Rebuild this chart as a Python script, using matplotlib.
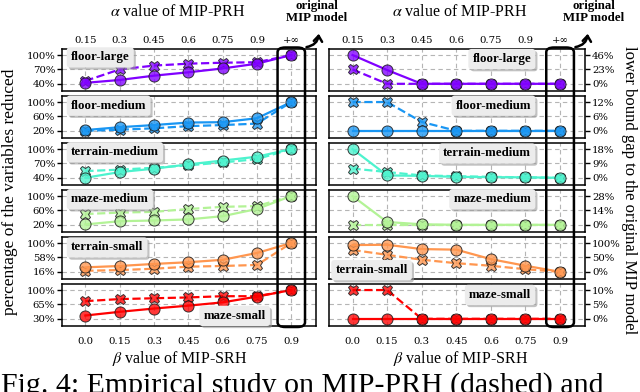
import numpy as np
import matplotlib
matplotlib.use("Agg")
import matplotlib.pyplot as plt
from matplotlib.patches import FancyBboxPatch, FancyArrowPatch
import matplotlib.patheffects as pe

# ---------------- data ----------------
alpha_labels = ['0.15', '0.3', '0.45', '0.6', '0.75', '0.9', '+∞']
beta_labels = ['0.0', '0.15', '0.3', '0.45', '0.6', '0.75', '0.9']
names = ['floor-large', 'floor-medium', 'terrain-medium', 'maze-medium', 'terrain-small', 'maze-small']

# percentage of variables reduced (solid, circles)
red_floor_large_s = [42, 48, 57, 64, 72, 82, 100]
red_floor_medium_s = [22, 30, 36, 43, 44, 55, 100]
red_terrain_medium_s = [40, 52, 59, 68, 76, 84, 100]
red_maze_medium_s = [21, 30, 32, 35, 44, 64, 100]
red_terrain_small_s = [29, 33, 39, 44, 51, 71, 100]
red_maze_small_s = [38, 47, 55, 62, 70, 84, 100]
# percentage of variables reduced (dashed, crosses)
red_floor_large_d = [46, 70, 78, 82, 84, 85, 100]
red_floor_medium_d = [20, 23, 27, 33, 36, 40, 100]
red_terrain_medium_d = [54, 57, 61, 66, 72, 79, 100]
red_maze_medium_d = [50, 54, 56, 64, 70, 72, 100]
red_terrain_small_d = [19, 21, 25, 31, 33, 36, 100]
red_maze_small_d = [73, 78, 80, 82, 85, 85, 100]

# lower bound gap (solid, circles)
gap_floor_large_s = [46, 22, 0, 0, 0, 0, 0]
gap_floor_medium_s = [0, 0, 0, 0, 0, 0, 0]
gap_terrain_medium_s = [18, 1.5, 1.2, 0.6, 0.4, 0.3, 0]
gap_maze_medium_s = [28, 2.7, 0.5, 0, 0, 0, 0]
gap_terrain_small_s = [93, 94, 79, 77, 44, 21, 0]
gap_maze_small_s = [0, 0, 0, 0, 0, 0, 0]
# lower bound gap (dashed, crosses)
gap_floor_large_d = [23, 0, 0, 0, 0, 0, 0]
gap_floor_medium_d = [12, 12, 3.7, 0, 0, 0, 0]
gap_terrain_medium_d = [5.8, 3.6, 1.5, 1.0, 0.6, 0.3, 0]
gap_maze_medium_d = [0, 0, 0, 0, 0, 0, 0]
gap_terrain_small_d = [76, 59, 42, 30, 21, 9, 0]
gap_maze_small_d = [10, 10, 0, 0, 0, 0, 0]

red_ticks = [[40, 70, 100], [20, 60, 100], [40, 70, 100], [20, 60, 100], [16, 58, 100], [30, 65, 100]]
gap_ticks = [[0, 23, 46], [0, 6, 12], [0, 9, 18], [0, 14, 28], [0, 50, 100], [0, 5, 10]]

red_solid = [red_floor_large_s, red_floor_medium_s, red_terrain_medium_s,
             red_maze_medium_s, red_terrain_small_s, red_maze_small_s]
red_dash = [red_floor_large_d, red_floor_medium_d, red_terrain_medium_d,
            red_maze_medium_d, red_terrain_small_d, red_maze_small_d]
gap_solid = [gap_floor_large_s, gap_floor_medium_s, gap_terrain_medium_s,
             gap_maze_medium_s, gap_terrain_small_s, gap_maze_small_s]
gap_dash = [gap_floor_large_d, gap_floor_medium_d, gap_terrain_medium_d,
            gap_maze_medium_d, gap_terrain_small_d, gap_maze_small_d]

# ---------------- layout ----------------
W, H = 640, 392
fig = plt.figure(figsize=(W / 100, H / 100), dpi=100)

def fx(px):
    return px / W

def fy(py):
    return 1 - py / H

colors = [plt.cm.rainbow(v) for v in np.linspace(0, 1, 6)]
x = np.arange(7)
tick_font = dict(family='DejaVu Serif', size=7.3)
SERIF = 'Liberation Serif'

# label positions: (ax-frac x, ax-frac y, ha)
left_lab = [(0.035, 0.80, 'left'), (0.035, 0.77, 'left'), (0.035, 0.78, 'left'),
            (0.035, 0.78, 'left'), (0.035, 0.75, 'left'), (0.68, 0.24, 'center')]
right_lab = [(0.79, 0.76, 'right'), (0.79, 0.77, 'right'), (0.79, 0.75, 'right'),
             (0.79, 0.78, 'right'), (0.025, 0.21, 'left'), (0.79, 0.74, 'right')]

def style_axes(ax, ticks):
    lo, hi = ticks[0], ticks[-1]
    r = hi - lo
    ax.set_ylim(lo - 0.25 * r, hi + 0.21 * r)
    ax.set_xlim(-0.68, 6.72)
    ax.set_yticks(ticks)
    ax.set_yticklabels([f'{t}%' for t in ticks], fontdict=tick_font)
    ax.set_xticks(x)
    ax.grid(True, ls=(0, (4, 3)), color='#b5b5b5', lw=0.8)
    ax.set_axisbelow(True)
    ax.tick_params(axis='x', length=0, pad=6, labelsize=7.3)
    ax.tick_params(axis='y', length=3.5, width=1, pad=1.5)
    for s in ax.spines.values():
        s.set_linewidth(1.1)
    ax.tick_params(axis='x', labelbottom=False, labeltop=False)

def draw_series(ax, ys, yd, c):
    fc = (c[0], c[1], c[2], 0.78)
    ec = (0.1, 0.1, 0.1, 0.85)
    ax.plot(x, yd, ls='--', color=c, lw=1.6, marker='X', ms=7.5, mfc=fc, mec=ec, mew=0.7, zorder=3)
    ax.plot(x, ys, ls='-', color=c, lw=1.6, marker='o', ms=8.0, mfc=fc, mec=ec, mew=0.7, zorder=4)

def add_label(ax, text, pos):
    t = ax.text(pos[0], pos[1], text, transform=ax.transAxes, ha=pos[2], va='center',
                family=SERIF, weight='bold', size=9.3, zorder=6,
                bbox=dict(boxstyle='round,pad=0.32,rounding_size=0.25', fc='#ececec', ec='none'))
    t.get_bbox_patch().set_path_effects([pe.SimplePatchShadow(offset=(1.5, -1.5), shadow_rgbFace='#9a9a9a', alpha=0.6), pe.Normal()])

row_h = 42
row_step = 47
top0 = 49
left_x0, left_x1 = 62, 316
right_x0, right_x1 = 329, 585

axesL, axesR = [], []
for i in range(6):
    top = top0 + i * row_step
    axL = fig.add_axes([fx(left_x0), fy(top + row_h), fx(left_x1 - left_x0), row_h / H])
    axR = fig.add_axes([fx(right_x0), fy(top + row_h), fx(right_x1 - right_x0), row_h / H])
    style_axes(axL, red_ticks[i])
    style_axes(axR, gap_ticks[i])
    axR.yaxis.tick_right()
    axR.tick_params(axis='y', length=3.5, width=1, pad=1.5)
    draw_series(axL, red_solid[i], red_dash[i], colors[i])
    draw_series(axR, gap_solid[i], gap_dash[i], colors[i])
    add_label(axL, names[i], left_lab[i])
    add_label(axR, names[i], right_lab[i])
    if i == 0:
        for ax in (axL, axR):
            ax.tick_params(axis='x', labeltop=True, pad=3)
            ax.set_xticklabels(alpha_labels, fontdict=tick_font)
    if i == 5:
        for ax in (axL, axR):
            ax.tick_params(axis='x', labelbottom=True, pad=8)
            ax.set_xticklabels(beta_labels, fontdict=tick_font)
    axesL.append(axL)
    axesR.append(axR)

# axis titles
for cx in (178, 460):
    fig.text(fx(cx), fy(12), r'$\alpha$ value of MIP-PRH', ha='center', va='center', family=SERIF,
             size=11.5, math_fontfamily='stix')
for cx in (180, 461):
    fig.text(fx(cx), fy(358), r'$\beta$ value of MIP-SRH', ha='center', va='center', family=SERIF,
             size=11.5, math_fontfamily='stix')
fig.text(fx(10), fy(192), 'percentage of the variables reduced', rotation=90, ha='center', va='center',
         family=SERIF, size=12.5)
fig.text(fx(629), fy(190), 'lower bound gap to the original MIP model', rotation=270, ha='center', va='center',
         family=SERIF, size=12)

# highlight boxes + arrows
fig.canvas.draw()
for axs, tx in ((axesL, 317), (axesR, 594)):
    ax_bot = axs[-1]
    xc_disp = ax_bot.transData.transform((6, 0))[0]
    half = 0.40 * (ax_bot.transData.transform((1, 0))[0] - ax_bot.transData.transform((0, 0))[0])
    x0 = (xc_disp - half) / W
    x1 = (xc_disp + half) / W
    y_top = fy(47.5)
    y_bot = fy(327)
    box = FancyBboxPatch((x0, y_bot), x1 - x0, y_top - y_bot, boxstyle='round,pad=0,rounding_size=0.012',
                         transform=fig.transFigure, fc='none', ec='black', lw=1.8, zorder=20)
    fig.add_artist(box)
    arr = FancyArrowPatch((x1 - 0.002, y_top), (x1 + fx(14), fy(31)), transform=fig.transFigure,
                          connectionstyle='arc3,rad=0.45', arrowstyle='->,head_length=4,head_width=3',
                          lw=1.8, color='black', zorder=20)
    fig.add_artist(arr)
    fig.text(fx(tx), fy(12), 'original\nMIP model', ha='center', va='center', family=SERIF,
             weight='bold', size=9.3, linespacing=1.05)

# caption (only its upper part is visible, as in the source page)
fig.text(0.002, fy(372), 'Fig. 4: Empirical study on MIP-PRH (dashed) and',
         ha='left', va='top', family=SERIF, size=21.5)

fig.savefig('out.png', dpi=100)
